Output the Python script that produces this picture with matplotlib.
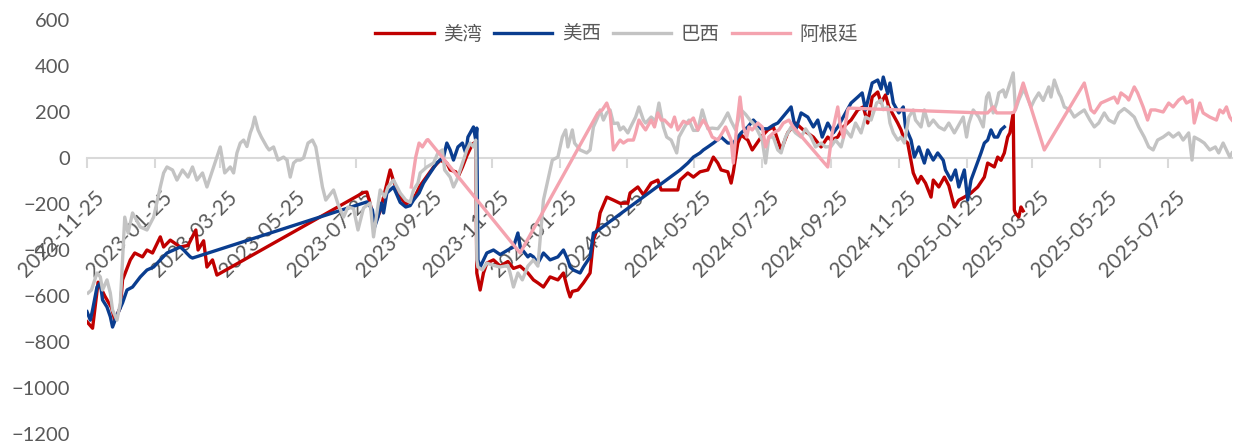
import matplotlib
matplotlib.use("Agg")
import matplotlib.pyplot as plt
import pandas as pd
from matplotlib.transforms import ScaledTranslation

plt.rcParams['font.family'] = ['Lato', 'Noto Sans CJK SC', 'DejaVu Sans']

# daily spread series (date, value); straight runs are periods without quotes
us_gulf = [
    ("2022-11-25", -712), ("2022-11-30", -740), ("2022-12-05", -540), ("2022-12-11", -600),
    ("2022-12-17", -650), ("2022-12-20", -705), ("2022-12-25", -650), ("2022-12-27", -530),
    ("2023-01-03", -443), ("2023-01-07", -413), ("2023-01-14", -430), ("2023-01-18", -400),
    ("2023-01-23", -413), ("2023-01-30", -343), ("2023-02-02", -387), ("2023-02-08", -357),
    ("2023-02-17", -387), ("2023-02-24", -380), ("2023-03-03", -313), ("2023-03-05", -400),
    ("2023-03-10", -360), ("2023-03-13", -474), ("2023-03-18", -443), ("2023-03-22", -509),
    ("2023-08-01", -150), ("2023-08-04", -148), ("2023-08-07", -200), ("2023-08-11", -290),
    ("2023-08-16", -230), ("2023-08-20", -150), ("2023-08-25", -52), ("2023-08-28", -100),
    ("2023-09-03", -170), ("2023-09-08", -200), ("2023-09-12", -190), ("2023-09-17", -160),
    ("2023-09-21", -120), ("2023-09-27", -80), ("2023-10-03", -40), ("2023-10-09", -10),
    ("2023-10-15", -22), ("2023-10-18", -52), ("2023-10-23", -60), ("2023-10-25", -83),
    ("2023-10-29", -40), ("2023-11-02", 10), ("2023-11-07", 60), ("2023-11-10", 70),
    ("2023-11-11", -500), ("2023-11-14", -574), ("2023-11-17", -500), ("2023-11-20", -457),
    ("2023-11-26", -443), ("2023-12-02", -470), ("2023-12-09", -450), ("2023-12-14", -480),
    ("2023-12-20", -470), ("2023-12-27", -500), ("2024-01-01", -530), ("2024-01-05", -543),
    ("2024-01-10", -561), ("2024-01-16", -517), ("2024-01-23", -530), ("2024-01-28", -500),
    ("2024-02-01", -574), ("2024-02-03", -604), ("2024-02-05", -580), ("2024-02-10", -574),
    ("2024-02-15", -543), ("2024-02-21", -500), ("2024-02-24", -357), ("2024-02-28", -300),
    ("2024-03-01", -239), ("2024-03-07", -170), ("2024-03-13", -183), ("2024-03-19", -197),
    ("2024-03-26", -196), ("2024-03-28", -152), ("2024-04-04", -126), ("2024-04-09", -160),
    ("2024-04-16", -109), ("2024-04-22", -96), ("2024-04-25", -139), ("2024-05-10", -139),
    ("2024-05-12", -96), ("2024-05-19", -65), ("2024-05-24", -83), ("2024-05-30", -60),
    ("2024-06-06", -52), ("2024-06-11", 4), ("2024-06-15", -22), ("2024-06-18", -52),
    ("2024-06-24", -60), ("2024-06-27", -109), ("2024-06-29", -60), ("2024-07-03", 65),
    ("2024-07-06", 100), ("2024-07-12", 78), ("2024-07-16", 35), ("2024-07-24", 91),
    ("2024-07-30", 122), ("2024-08-04", 135), ("2024-08-11", 35), ("2024-08-17", 110),
    ("2024-08-24", 152), ("2024-08-31", 122), ("2024-09-09", 91), ("2024-09-16", 48),
    ("2024-09-22", 91), ("2024-09-25", 78), ("2024-10-01", 91), ("2024-10-06", 135),
    ("2024-10-13", 165), ("2024-10-19", 209), ("2024-10-24", 222), ("2024-10-28", 152),
    ("2024-11-01", 265), ("2024-11-06", 287), ("2024-11-09", 240), ("2024-11-13", 274),
    ("2024-11-16", 222), ("2024-11-19", 196), ("2024-11-24", 152), ("2024-11-27", 122),
    ("2024-11-30", 78), ("2024-12-03", 65), ("2024-12-08", -65), ("2024-12-12", -109),
    ("2024-12-15", -80), ("2024-12-19", -109), ("2024-12-24", -170), ("2024-12-26", -96),
    ("2024-12-31", -126), ("2025-01-05", -83), ("2025-01-09", -120), ("2025-01-14", -213),
    ("2025-01-18", -183), ("2025-01-23", -170), ("2025-01-29", -152), ("2025-02-04", -126),
    ("2025-02-10", -83), ("2025-02-13", -22), ("2025-02-19", -39), ("2025-02-22", 4),
    ("2025-02-25", -10), ("2025-02-28", 22), ("2025-03-03", 91), ("2025-03-05", 109),
    ("2025-03-08", 196), ("2025-03-09", -226), ("2025-03-10", -239), ("2025-03-13", -257),
    ("2025-03-15", -213), ("2025-03-17", -230),
]

us_west = [
    ("2022-11-25", -668), ("2022-11-28", -705), ("2022-11-30", -661), ("2022-12-04", -561),
    ("2022-12-07", -543), ("2022-12-09", -617), ("2022-12-13", -648), ("2022-12-16", -690),
    ("2022-12-18", -735), ("2022-12-22", -683), ("2022-12-27", -630), ("2022-12-31", -574),
    ("2023-01-05", -561), ("2023-01-12", -517), ("2023-01-18", -487), ("2023-01-24", -474),
    ("2023-01-30", -443), ("2023-02-05", -413), ("2023-02-11", -400), ("2023-02-17", -387),
    ("2023-02-20", -400), ("2023-02-26", -430), ("2023-02-28", -435),
    ("2023-08-04", -191), ("2023-08-05", -196), ("2023-08-09", -226), ("2023-08-11", -300),
    ("2023-08-14", -257), ("2023-08-17", -196), ("2023-08-19", -239), ("2023-08-22", -152),
    ("2023-08-28", -126), ("2023-09-03", -193), ("2023-09-08", -213), ("2023-09-12", -207),
    ("2023-09-15", -183), ("2023-09-20", -152), ("2023-09-24", -109), ("2023-09-30", -65),
    ("2023-10-06", -22), ("2023-10-12", 4), ("2023-10-15", 65), ("2023-10-18", 35),
    ("2023-10-21", -9), ("2023-10-25", 48), ("2023-10-29", 65), ("2023-11-01", 22),
    ("2023-11-03", 91), ("2023-11-08", 135), ("2023-11-10", 78), ("2023-11-11", 130),
    ("2023-11-12", -443), ("2023-11-14", -474), ("2023-11-17", -443), ("2023-11-20", -413),
    ("2023-11-26", -400), ("2023-12-02", -420), ("2023-12-09", -400), ("2023-12-14", -387),
    ("2023-12-18", -326), ("2023-12-20", -387), ("2023-12-27", -430), ("2023-12-29", -420),
    ("2024-01-01", -430), ("2024-01-05", -457), ("2024-01-10", -413), ("2024-01-16", -443),
    ("2024-01-23", -430), ("2024-01-28", -400), ("2024-02-01", -443), ("2024-02-03", -474),
    ("2024-02-06", -487), ("2024-02-12", -500), ("2024-02-15", -474), ("2024-02-21", -430),
    ("2024-02-24", -326), ("2024-02-26", -322),
    ("2024-05-12", -52), ("2024-05-19", -22), ("2024-05-24", 4), ("2024-05-30", 22),
    ("2024-06-02", 35), ("2024-06-06", 48), ("2024-06-11", 65), ("2024-06-18", 91),
    ("2024-06-24", 65), ("2024-06-29", 65), ("2024-07-03", 91), ("2024-07-06", 109),
    ("2024-07-12", 135), ("2024-07-17", 165), ("2024-07-24", 127), ("2024-07-30", 127),
    ("2024-08-04", 143), ("2024-08-08", 152), ("2024-08-20", 222), ("2024-08-24", 120),
    ("2024-08-29", 196), ("2024-09-04", 178), ("2024-09-09", 135), ("2024-09-13", 165),
    ("2024-09-17", 91), ("2024-09-22", 152), ("2024-09-27", 109), ("2024-10-01", 135),
    ("2024-10-06", 178), ("2024-10-13", 239), ("2024-10-19", 265), ("2024-10-23", 283),
    ("2024-10-26", 209), ("2024-11-01", 326), ("2024-11-06", 339), ("2024-11-09", 300),
    ("2024-11-11", 352), ("2024-11-15", 280), ("2024-11-17", 326), ("2024-11-20", 239),
    ("2024-11-25", 196), ("2024-11-29", 222), ("2024-12-01", 135), ("2024-12-06", 78),
    ("2024-12-09", 4), ("2024-12-13", 48), ("2024-12-18", -22), ("2024-12-21", 35),
    ("2024-12-26", -9), ("2024-12-30", 22), ("2025-01-04", -10), ("2025-01-06", -52),
    ("2025-01-11", -96), ("2025-01-15", -52), ("2025-01-18", -126), ("2025-01-23", -52),
    ("2025-01-26", -183), ("2025-01-29", -96),
    ("2025-02-07", 22), ("2025-02-10", 65), ("2025-02-13", 78), ("2025-02-16", 122),
    ("2025-02-19", 91), ("2025-02-22", 91), ("2025-02-25", 122), ("2025-02-28", 135),
]

brazil = [
    ("2022-11-26", -587), ("2022-11-29", -574), ("2022-12-04", -500), ("2022-12-07", -517),
    ("2022-12-09", -574), ("2022-12-13", -530), ("2022-12-16", -587), ("2022-12-18", -661),
    ("2022-12-22", -705), ("2022-12-25", -630), ("2022-12-29", -257), ("2023-01-01", -326),
    ("2023-01-05", -239), ("2023-01-12", -300), ("2023-01-18", -313), ("2023-01-24", -257),
    ("2023-01-30", -126), ("2023-02-02", -65), ("2023-02-05", -39), ("2023-02-10", -52),
    ("2023-02-14", -96), ("2023-02-19", -52), ("2023-02-24", -83), ("2023-02-28", -39),
    ("2023-03-04", -96), ("2023-03-09", -65), ("2023-03-13", -126), ("2023-03-19", -39),
    ("2023-03-22", 4), ("2023-03-25", 48), ("2023-03-29", -65), ("2023-04-03", -39),
    ("2023-04-06", -65), ("2023-04-09", 22), ("2023-04-12", 65), ("2023-04-15", 78),
    ("2023-04-18", 50), ("2023-04-21", 109), ("2023-04-23", 135), ("2023-04-25", 178),
    ("2023-04-28", 122), ("2023-05-01", 91), ("2023-05-06", 48), ("2023-05-08", 35),
    ("2023-05-12", 48), ("2023-05-16", -9), ("2023-05-21", 4), ("2023-05-24", -9),
    ("2023-05-27", -83), ("2023-05-30", -22), ("2023-06-02", -9), ("2023-06-05", -9),
    ("2023-06-08", 0), ("2023-06-12", 65), ("2023-06-16", 78), ("2023-06-19", 48),
    ("2023-06-21", -9), ("2023-06-25", -126), ("2023-06-28", -183), ("2023-06-30", -170),
    ("2023-07-05", -139), ("2023-07-09", -200), ("2023-07-14", -257), ("2023-07-18", -213),
    ("2023-07-23", -220), ("2023-07-27", -313), ("2023-08-01", -217), ("2023-08-07", -196),
    ("2023-08-10", -343), ("2023-08-14", -207), ("2023-08-16", -139), ("2023-08-20", -170),
    ("2023-08-23", -126), ("2023-08-28", -96), ("2023-09-03", -152), ("2023-09-08", -183),
    ("2023-09-12", -193), ("2023-09-15", -139), ("2023-09-19", -109), ("2023-09-21", -65),
    ("2023-09-27", -39), ("2023-10-03", -22), ("2023-10-07", 22), ("2023-10-11", 35),
    ("2023-10-13", -52), ("2023-10-18", -83), ("2023-10-21", -126), ("2023-10-24", -96),
    ("2023-10-27", -52), ("2023-10-30", -9), ("2023-11-02", 35), ("2023-11-05", 65),
    ("2023-11-08", 48), ("2023-11-10", 78), ("2023-11-11", -443), ("2023-11-12", -474),
    ("2023-11-16", -487), ("2023-11-20", -457), ("2023-11-26", -467), ("2023-12-02", -474),
    ("2023-12-09", -467), ("2023-12-11", -500), ("2023-12-14", -561), ("2023-12-18", -500),
    ("2023-12-22", -530), ("2023-12-27", -470), ("2024-01-01", -443), ("2024-01-05", -470),
    ("2024-01-08", -300), ("2024-01-10", -183), ("2024-01-14", -96), ("2024-01-18", -9),
    ("2024-01-23", 4), ("2024-01-27", 91), ("2024-01-30", 122), ("2024-02-01", 48),
    ("2024-02-05", 122), ("2024-02-07", 65), ("2024-02-12", 35), ("2024-02-18", 22),
    ("2024-02-21", 35), ("2024-02-24", 135), ("2024-02-28", 178), ("2024-03-01", 209),
    ("2024-03-04", 165), ("2024-03-07", 196), ("2024-03-10", 209), ("2024-03-13", 150),
    ("2024-03-17", 152), ("2024-03-19", 122), ("2024-03-22", 135), ("2024-03-26", 109),
    ("2024-03-28", 130), ("2024-04-02", 178), ("2024-04-05", 222), ("2024-04-09", 165),
    ("2024-04-11", 152), ("2024-04-16", 178), ("2024-04-20", 160), ("2024-04-23", 239),
    ("2024-04-27", 135), ("2024-04-30", 91), ("2024-05-04", 78), ("2024-05-09", 22),
    ("2024-05-11", 91), ("2024-05-16", 135), ("2024-05-20", 165), ("2024-05-24", 120),
    ("2024-05-28", 120), ("2024-06-01", 209), ("2024-06-06", 127), ("2024-06-10", 130),
    ("2024-06-15", 127), ("2024-06-19", 152), ("2024-06-24", 196), ("2024-06-27", 160),
    ("2024-07-01", 123), ("2024-07-06", 209), ("2024-07-10", 190), ("2024-07-14", 165),
    ("2024-07-17", 150), ("2024-07-20", 127), ("2024-07-25", 78), ("2024-07-28", -22),
    ("2024-07-31", 91), ("2024-08-04", 91), ("2024-08-08", 35), ("2024-08-11", 22),
    ("2024-08-15", 91), ("2024-08-20", 135), ("2024-08-24", 109), ("2024-08-29", 91),
    ("2024-09-02", 127), ("2024-09-07", 91), ("2024-09-11", 48), ("2024-09-16", 65),
    ("2024-09-20", 48), ("2024-09-25", 50), ("2024-09-29", 78), ("2024-10-04", 48),
    ("2024-10-08", 122), ("2024-10-13", 91), ("2024-10-17", 152), ("2024-10-22", 109),
    ("2024-10-26", 178), ("2024-10-31", 165), ("2024-11-05", 239), ("2024-11-09", 252),
    ("2024-11-11", 210), ("2024-11-15", 222), ("2024-11-17", 152), ("2024-11-20", 109),
    ("2024-11-24", 78), ("2024-11-27", 91), ("2024-11-30", 65), ("2024-12-04", 178),
    ("2024-12-08", 209), ("2024-12-10", 165), ("2024-12-15", 135), ("2024-12-18", 209),
    ("2024-12-22", 140), ("2024-12-26", 165), ("2024-12-31", 135), ("2025-01-05", 122),
    ("2025-01-09", 152), ("2025-01-14", 109), ("2025-01-17", 135), ("2025-01-22", 178),
    ("2025-01-25", 91), ("2025-01-27", 150), ("2025-01-31", 209), ("2025-02-05", 178),
    ("2025-02-09", 135), ("2025-02-12", 265), ("2025-02-14", 283), ("2025-02-18", 196),
    ("2025-02-21", 239), ("2025-02-23", 283), ("2025-02-27", 296), ("2025-03-01", 265),
    ("2025-03-04", 309), ("2025-03-08", 370), ("2025-03-10", 209), ("2025-03-13", 252),
    ("2025-03-17", 296), ("2025-03-19", 283), ("2025-03-24", 222), ("2025-03-27", 252),
    ("2025-03-31", 283), ("2025-04-04", 250), ("2025-04-09", 309), ("2025-04-11", 265),
    ("2025-04-14", 339), ("2025-04-18", 283), ("2025-04-20", 265), ("2025-04-23", 222),
    ("2025-04-28", 209), ("2025-05-02", 178), ("2025-05-07", 196), ("2025-05-11", 209),
    ("2025-05-16", 165), ("2025-05-20", 135), ("2025-05-24", 152), ("2025-05-29", 196),
    ("2025-06-02", 165), ("2025-06-07", 152), ("2025-06-11", 196), ("2025-06-16", 215),
    ("2025-06-20", 200), ("2025-06-25", 178), ("2025-06-29", 135), ("2025-07-04", 91),
    ("2025-07-08", 48), ("2025-07-12", 35), ("2025-07-16", 78), ("2025-07-21", 91),
    ("2025-07-26", 109), ("2025-07-30", 91), ("2025-08-04", 109), ("2025-08-08", 78),
    ("2025-08-13", 109), ("2025-08-16", -9), ("2025-08-18", 91), ("2025-08-23", 78),
    ("2025-08-27", 65), ("2025-09-01", 35), ("2025-09-06", 48), ("2025-09-09", 22),
    ("2025-09-13", 65), ("2025-09-16", 35), ("2025-09-19", 4), ("2025-09-21", 22),
]

argentina = [
    ("2023-09-13", -126), ("2023-09-17", 4), ("2023-09-20", 65), ("2023-09-23", 48),
    ("2023-09-27", 78), ("2023-09-28", 80), ("2023-12-20", -413), ("2024-02-28", 196),
    ("2024-03-03", 209), ("2024-03-07", 239), ("2024-03-10", 196), ("2024-03-13", 35),
    ("2024-03-17", 65), ("2024-03-19", 78), ("2024-03-22", 65), ("2024-03-26", 78),
    ("2024-03-31", 78), ("2024-04-02", 109), ("2024-04-05", 165), ("2024-04-09", 135),
    ("2024-04-11", 122), ("2024-04-16", 165), ("2024-04-19", 135), ("2024-04-22", 196),
    ("2024-04-25", 165), ("2024-04-28", 165), ("2024-05-01", 150), ("2024-05-04", 135),
    ("2024-05-07", 178), ("2024-05-10", 122), ("2024-05-15", 160), ("2024-05-19", 150),
    ("2024-05-24", 174), ("2024-05-28", 122), ("2024-06-02", 165), ("2024-06-06", 135),
    ("2024-06-10", 91), ("2024-06-15", 78), ("2024-06-19", 109), ("2024-06-22", 135),
    ("2024-06-27", 78), ("2024-06-29", -22), ("2024-07-02", 135), ("2024-07-05", 265),
    ("2024-07-08", 135), ("2024-07-11", 91), ("2024-07-13", 135), ("2024-07-16", 122),
    ("2024-07-21", 152), ("2024-07-25", 135), ("2024-07-28", 48), ("2024-07-31", 91),
    ("2024-08-04", 109), ("2024-08-09", 122), ("2024-08-13", 152), ("2024-08-18", 165),
    ("2024-08-22", 135), ("2024-09-22", -39), ("2024-09-26", 109), ("2024-10-01", 222),
    ("2024-10-03", 150), ("2024-10-06", 90), ("2024-10-10", 209), ("2024-10-11", 217),
    ("2025-02-07", 196), ("2025-02-13", 196), ("2025-02-18", 222), ("2025-02-21", 196),
    ("2025-03-06", 196), ("2025-03-09", 200), ("2025-03-17", 326), ("2025-04-05", 35),
    ("2025-05-11", 326), ("2025-05-17", 209), ("2025-05-20", 196), ("2025-05-26", 239),
    ("2025-06-01", 252), ("2025-06-07", 265), ("2025-06-10", 239), ("2025-06-13", 283),
    ("2025-06-18", 265), ("2025-06-20", 252), ("2025-06-25", 309), ("2025-06-28", 283),
    ("2025-07-03", 222), ("2025-07-07", 165), ("2025-07-10", 209), ("2025-07-14", 209),
    ("2025-07-21", 200), ("2025-07-26", 239), ("2025-07-30", 222), ("2025-08-04", 252),
    ("2025-08-08", 265), ("2025-08-11", 239), ("2025-08-16", 252), ("2025-08-18", 152),
    ("2025-08-23", 239), ("2025-08-26", 196), ("2025-09-01", 178), ("2025-09-07", 165),
    ("2025-09-10", 209), ("2025-09-13", 196), ("2025-09-16", 222), ("2025-09-19", 178),
    ("2025-09-21", 165),
]

series_names = ["美湾", "美西", "巴西", "阿根廷"]
series_colors = ["#C00000", "#0A3D8F", "#C3C3C3", "#F4A3AF"]

tick_dates = [
    "2022-11-25", "2023-01-25", "2023-03-25", "2023-05-25", "2023-07-25", "2023-09-25",
    "2023-11-25", "2024-01-25", "2024-03-25", "2024-05-25", "2024-07-25", "2024-09-25",
    "2024-11-25", "2025-01-25", "2025-03-25", "2025-05-25", "2025-07-25",
]

W, H = 1241, 443
fig = plt.figure(figsize=(W / 100, H / 100), dpi=100)
ax = fig.add_axes([87 / W, 9 / H, (1232 - 87) / W, 414 / H])

for name, data, color in zip(series_names, [us_gulf, us_west, brazil, argentina], series_colors):
    x = pd.to_datetime([d for d, _ in data])
    y = [v for _, v in data]
    ax.plot(x, y, color=color, lw=2.4, label=name, solid_joinstyle='round')

ax.set_ylim(-1200, 600)
ax.set_yticks(range(-1200, 601, 200))
ax.set_xlim(pd.Timestamp("2022-11-25"), pd.Timestamp("2025-09-21"))
ax.set_xticks(pd.to_datetime(tick_dates))
ax.set_xticklabels(tick_dates)

for side in ["top", "right", "left"]:
    ax.spines[side].set_visible(False)
ax.spines["bottom"].set_position(("data", 0))
ax.spines["bottom"].set_color("#D9D9D9")
ax.spines["bottom"].set_linewidth(1.5)
ax.spines["bottom"].set_zorder(0)

ax.tick_params(axis="x", direction="out", length=7, width=1.5, color="#D9D9D9",
               labelcolor="#595959", labelsize=15)
ax.tick_params(axis="y", length=0, pad=12, labelcolor="#595959", labelsize=14.5)

# rotated date labels hang below-left of their tick
shift = ScaledTranslation(0.07, -0.15, fig.dpi_scale_trans)
for lbl in ax.get_xticklabels():
    lbl.set_rotation(45)
    lbl.set_ha("right")
    lbl.set_va("top")
    lbl.set_rotation_mode("anchor")
    lbl.set_transform(lbl.get_transform() + shift)

leg = fig.legend(loc="center", bbox_to_anchor=(0.497, 0.922), ncol=4, frameon=False,
                 handlelength=3.0, handletextpad=0.5, columnspacing=0.6,
                 prop={"family": ["Noto Sans CJK SC", "DejaVu Sans"], "size": 14})
for t in leg.get_texts():
    t.set_color("#595959")

fig.savefig("out.png", dpi=100)
